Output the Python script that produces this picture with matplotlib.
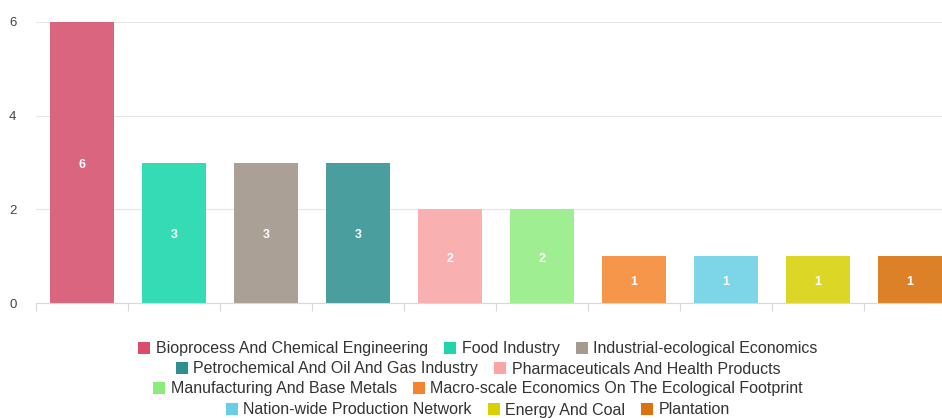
import matplotlib.pyplot as plt
from matplotlib.patches import FancyBboxPatch

categories = ["Bioprocess And Chemical Engineering", "Food Industry", "Industrial-ecological Economics",
              "Petrochemical And Oil And Gas Industry", "Pharmaceuticals And Health Products",
              "Manufacturing And Base Metals", "Macro-scale Economics On The Ecological Footprint",
              "Nation-wide Production Network", "Energy And Coal", "Plantation"]
counts = [6, 3, 3, 3, 2, 2, 1, 1, 1, 1]
bar_colors = ["#d9667e", "#35dbb5", "#aaa095", "#4a9e9d", "#f8b0b0",
              "#a0ee92", "#f5964a", "#7dd5e8", "#dcd627", "#dc8128"]
legend_colors = ["#dc4b6a", "#1fd6ab", "#a59a8e", "#2f8f8f", "#f8a5a5",
                 "#8aec7a", "#f5842f", "#6acfe6", "#d8d000", "#db7214"]

plt.rcParams['font.family'] = ['Liberation Sans', 'DejaVu Sans']

fig = plt.figure(figsize=(9.42, 4.18), dpi=100)
ax = fig.add_axes([36 / 942, 115 / 418, 920 / 942, 281 / 418])

x = list(range(len(categories)))
bars = ax.bar(x, counts, width=0.7, color=bar_colors, zorder=2)
for b, v in zip(bars, counts):
    ax.text(b.get_x() + b.get_width() / 2, v / 2 - 0.05, str(v), ha='center', va='center',
            color='white', fontsize=9, fontweight='bold', zorder=3)

ax.set_xlim(-0.5, len(categories) - 0.5)
ax.set_ylim(0, 6)
ax.set_yticks([0, 2, 4, 6])
ax.yaxis.grid(True, color='#e6e6e6', linewidth=0.8, zorder=0)
ax.set_xticks([i - 0.5 for i in range(len(categories) + 1)])
ax.set_xticklabels([])
ax.tick_params(axis='x', length=6, color='#d8d8d8', width=0.8)
ax.tick_params(axis='y', length=0, labelsize=9.5, labelcolor='#444444', pad=14)
for s in ['top', 'right', 'left']:
    ax.spines[s].set_visible(False)
ax.spines['bottom'].set_color('#d8d8d8')
ax.spines['bottom'].set_linewidth(0.8)

handles = [FancyBboxPatch((0, 0), 1, 1, boxstyle='round,pad=0,rounding_size=0.2',
                          facecolor=c, edgecolor='none') for c in legend_colors]
rows = [[0, 1, 2], [3, 4], [5, 6], [7, 8, 9]]
row_y = [349, 369, 389, 410]
for r, yy in zip(rows, row_y):
    fig.legend([handles[i] for i in r], [categories[i] for i in r], loc='center',
               bbox_to_anchor=(478 / 942, 1 - yy / 418), ncol=len(r), frameon=False,
               fontsize=11.5, handlelength=0.75, handleheight=0.75, handletextpad=0.35,
               columnspacing=1.0, borderpad=0, labelcolor='#333333')

fig.savefig("out.png", dpi=100)
